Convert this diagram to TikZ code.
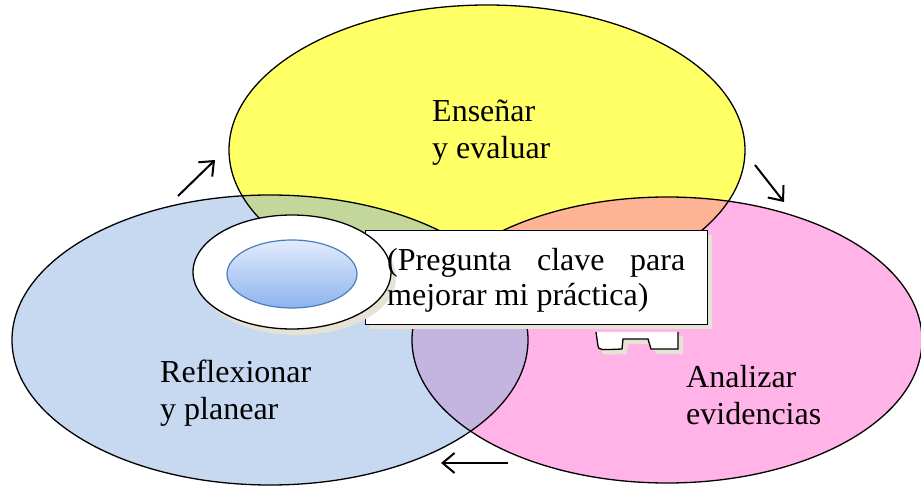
\documentclass[tikz,border=0pt]{standalone}
\usepackage{fontspec}
\setmainfont{Liberation Serif}
\usetikzlibrary{arrows.meta,shapes.geometric}
\definecolor{yel}{HTML}{FFFF66}
\definecolor{blu}{HTML}{C6D9F1}
\definecolor{pnk}{HTML}{FFB3E6}
\definecolor{grn}{HTML}{C4D79B}
\definecolor{sal}{HTML}{FFB395}
\definecolor{pur}{HTML}{C4B4E0}
\definecolor{shd}{HTML}{E6E2D6}
\definecolor{inA}{HTML}{E2ECFC}
\definecolor{inB}{HTML}{8DB3EF}
\definecolor{inL}{HTML}{4A7EBB}
\tikzset{
  outl/.style={draw=black,line width=1.3pt},
  lbl/.style={inner sep=0pt,align=left,font=\fontsize{32}{37}\selectfont},
  arr/.style={line width=2pt,-{Straight Barb[length=12pt,width=20pt,line width=2pt]}},
}
\begin{document}
\begin{tikzpicture}[x=1pt,y=-1pt]
\useasboundingbox (0,0) rectangle (921,486);
\fill[white] (0,0) rectangle (921,486);
% fills
\fill[yel] (487,150) ellipse [x radius=258,y radius=145];
\fill[blu] (270,340) ellipse [x radius=258,y radius=145];
\fill[pnk] (667,340) ellipse [x radius=255,y radius=143];
\begin{scope}
  \clip (487,150) ellipse [x radius=258,y radius=145];
  \fill[grn] (270,340) ellipse [x radius=258,y radius=145];
  \fill[sal] (667,340) ellipse [x radius=255,y radius=143];
\end{scope}
\begin{scope}
  \clip (270,340) ellipse [x radius=258,y radius=145];
  \fill[pur] (667,340) ellipse [x radius=255,y radius=143];
\end{scope}
% outlines
\draw[outl] (487,150) ellipse [x radius=258,y radius=145];
\draw[outl] (270,340) ellipse [x radius=258,y radius=145];
\draw[outl] (667,340) ellipse [x radius=255,y radius=143];
% notch shape
\fill[shd] (601,336) -- (602,352) .. controls (603,355) .. (627,354) -- (628,344) -- (653,344) -- (656,354) -- (683,354) -- (683,336) -- cycle;
\fill[white] (596,332) -- (598,346) .. controls (599,350) .. (622,349) -- (623,339) -- (648,339) -- (651,349) -- (678,349) -- (678,332) -- cycle;
\draw[line width=1.3pt] (596,332) -- (598,346) .. controls (599,350) .. (622,349) -- (623,339) -- (648,339) -- (651,349) -- (678,349) -- (678,332);
% question box
\fill[shd] (370,235) rectangle (712,329);
\node[draw=black,line width=1.3pt,fill=white,minimum width=342pt,minimum height=94pt,anchor=north west,inner sep=0pt] (box) at (365,230) {};
% ring
\fill[shd] (297,278) ellipse [x radius=99,y radius=57];
\coordinate (ring) at (292,272);
\path[fill=white,draw=black,line width=1.3pt] (ring) ellipse [x radius=99,y radius=57];
\shade[top color=inA,bottom color=inB] (292,274) ellipse [x radius=65,y radius=34];
\draw[inL,line width=1.2pt] (292,274) ellipse [x radius=65,y radius=34];
% question text
\node[anchor=north west,inner sep=0pt,text width=298pt,align=justify,font=\fontsize{32}{35}\selectfont] (q) at (387,248) {(Pregunta clave para mejorar mi práctica)};
% labels
\node[lbl,anchor=north west] (ens) at (432,100) {Enseñar\\y evaluar};
\node[lbl,anchor=north west] (ref) at (160,360) {Reflexionar\\y planear};
\node[lbl,anchor=north west] (ana) at (686,365) {Analizar\\evidencias};
% arrows
\coordinate (a1s) at (178,196); \coordinate (a1e) at (215,160);
\coordinate (a2s) at (755,165); \coordinate (a2e) at (784,202);
\coordinate (a3s) at (508,463); \coordinate (a3e) at (441,463);
\draw[arr] (a1s) -- (a1e);
\draw[arr] (a2s) -- (a2e);
\draw[arr] (a3s) -- (a3e);
\end{tikzpicture}
\end{document}
